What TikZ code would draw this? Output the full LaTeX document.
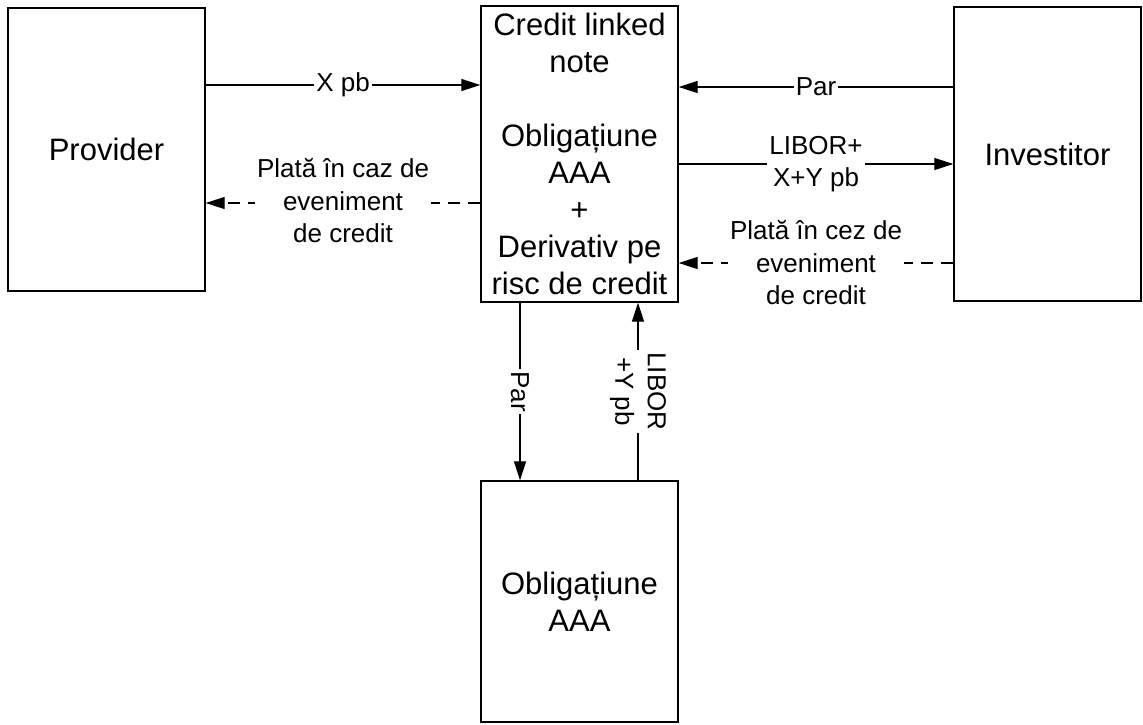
\documentclass[tikz,border=0pt]{standalone}
\usepackage{fontspec}
\setmainfont{Liberation Sans}
\usetikzlibrary{arrows.meta}
\tikzset{
  box/.style={draw, line width=1.3pt, inner sep=0pt, align=center,
    font=\fontsize{31}{36.9}\selectfont},
  lbl/.style={fill=white, inner sep=2pt, align=center,
    font=\fontsize{26}{32.5}\selectfont},
  arr/.style={line width=1.2pt, -{Triangle[length=19pt,width=12pt]}},
  dsh/.style={arr, dash pattern=on 12pt off 8pt}
}
\begin{document}
\begin{tikzpicture}[x=1pt,y=-1pt]
\useasboundingbox (0,0) rectangle (1143,724);
\node[box, minimum width=197pt, minimum height=283pt] (prov) at (106.5,149.5) {Provider};
\node[box, minimum width=197pt, minimum height=296pt] (cln) at (579.5,154)
  {Credit linked\\note\\[36.9pt]Obligațiune\\AAA\\+\\Derivativ pe\\risc de credit};
\node[box, minimum width=187pt, minimum height=294pt] (inv) at (1047.5,154) {Investitor};
\node[box, minimum width=197pt, minimum height=241pt] (obl) at (579.5,601.5) {Obligațiune\\AAA};
\coordinate (y1) at (0,85);
\coordinate (y2) at (0,87);
\coordinate (y3) at (0,164);
\coordinate (y4) at (0,203);
\coordinate (y5) at (0,263);
\coordinate (x1) at (520,0);
\coordinate (x2) at (638,0);
\draw[arr] (prov.east |- y1) -- node[lbl]{X pb} (cln.west |- y1);
\draw[arr] (inv.west |- y2) -- node[lbl]{Par} (cln.east |- y2);
\draw[arr] (cln.east |- y3) -- node[lbl]{LIBOR+\\X+Y pb} (inv.west |- y3);
\draw[dsh] (cln.west |- y4) -- node[lbl, yshift=2pt]{Plată în caz de\\eveniment\\de credit} (prov.east |- y4);
\draw[dsh] (inv.west |- y5) -- node[lbl]{Plată în cez de\\eveniment\\de credit} (cln.east |- y5);
\draw[arr] (cln.south -| x1) -- node[lbl, rotate=-90]{Par} (obl.north -| x1);
\draw[arr] (obl.north -| x2) -- node[lbl, rotate=-90]{LIBOR\\+Y pb} (cln.south -| x2);
\end{tikzpicture}
\end{document}
